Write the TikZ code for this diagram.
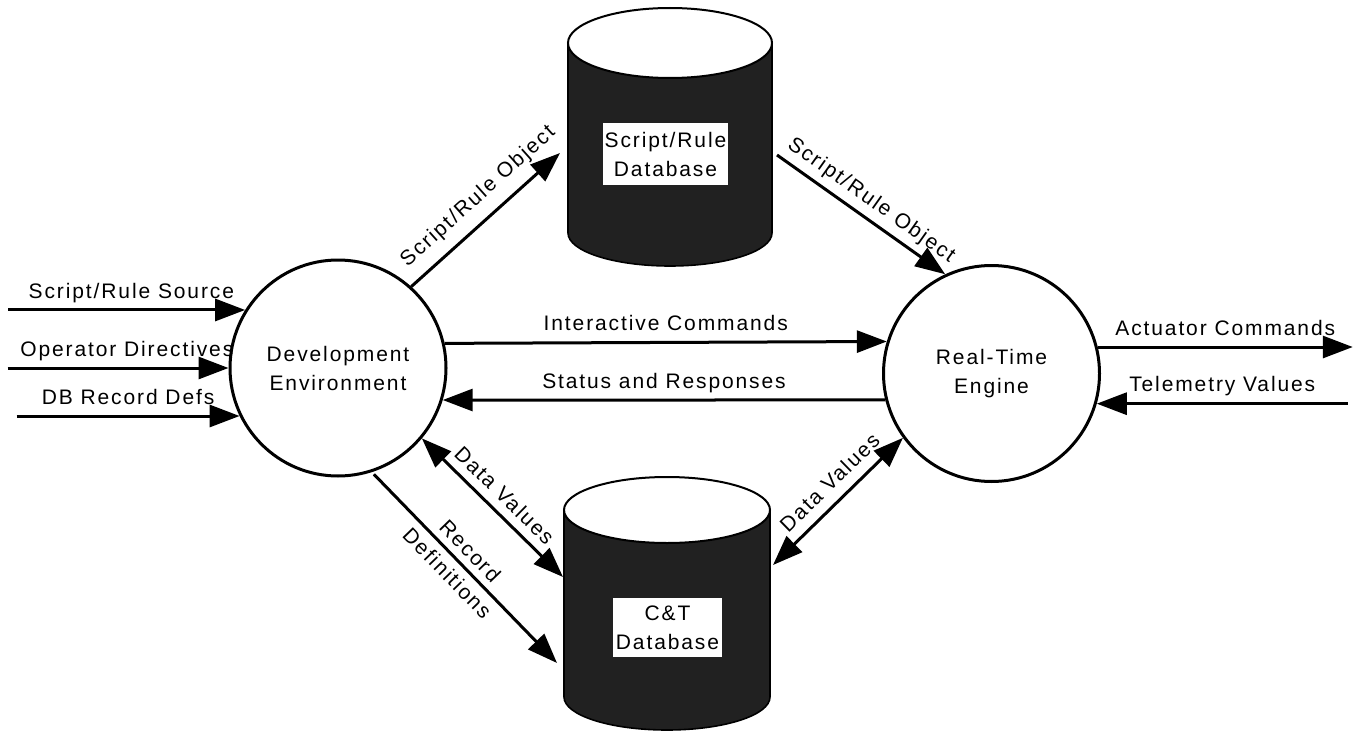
\documentclass[tikz,border=0pt]{standalone}
\usepackage{fontspec}
\setmainfont[LetterSpace=9]{Liberation Sans}
\usetikzlibrary{arrows.meta}
\newcommand{\dfdfont}{\fontsize{10.5}{14.5}\selectfont}

\begin{document}
\begin{tikzpicture}[
  x=0.5pt,y=-0.5pt,font=\dfdfont,
  proc/.style={circle,draw,line width=1.5pt,minimum size=108pt,align=center,inner sep=0pt},
  storebody/.style={rectangle,minimum width=#1,inner sep=0pt,outer sep=0pt},
  storefill/.style={fill=black!87,draw=black,line width=0.8pt},
  storelabel/.style={fill=white,align=center,inner sep=1pt},
  lbl/.style={text height=7.6pt,text depth=2.2pt,inner sep=3pt},
  flow/.style={line width=1.5pt,-{Triangle[length=15pt,width=11pt]}},
  dflow/.style={line width=1.5pt,{Triangle[length=15pt,width=11pt]}-{Triangle[length=15pt,width=11pt]}}
]
  \useasboundingbox (0,0) rectangle (1359,733);

  \node[proc] (dev) at (338,368) {Development\\Environment};
  \node[proc] (rte) at (991.5,373.5) {Real-Time\\Engine};

  \node[storebody=102pt,minimum height=95pt] (sdb) at (670,138) {};
  \fill[storefill] (sdb.north west) -- (sdb.south west)
    arc[start angle=180,end angle=0,x radius=102,y radius=33] -- (sdb.north east) -- cycle;
  \draw[fill=white,line width=1pt] (sdb.north) ellipse[x radius=102,y radius=35];
  \node[storelabel,minimum width=62.5pt,minimum height=31pt] (sdbtext) at (665.5,154) {Script/Rule\\Database};

  \node[storebody=103pt,minimum height=93.5pt] (cdb) at (667,603.5) {};
  \fill[storefill] (cdb.north west) -- (cdb.south west)
    arc[start angle=180,end angle=0,x radius=103,y radius=33] -- (cdb.north east) -- cycle;
  \draw[fill=white,line width=1pt] (cdb.north) ellipse[x radius=103,y radius=33];
  \node[storelabel,minimum width=54.5pt,minimum height=29.5pt] (cdbtext) at (667.5,627.5) {C\&T\\Database};

  \path (dev.148) ++(-237,0) coordinate (srcin);
  \path (dev.180) ++(-221,0) coordinate (opin);
  \path (dev.206.6) ++(-223,0) coordinate (recin);
  \path (rte.14) ++(255,0) coordinate (actout);
  \path (rte.-16.7) ++(251,0) coordinate (telin);

  \draw[flow] (srcin) -- node[lbl,above,pos=0.52] {Script/Rule Source} (dev.148);
  \draw[flow] (opin) -- node[lbl,above,pos=0.54] {Operator Directives} (dev.180);
  \draw[flow] (recin) -- node[lbl,above] {DB Record Defs} (dev.206.6);

  \draw[flow] (dev.13.7) -- node[lbl,above] {Interactive Commands} (rte.163.3);
  \draw[flow] (rte.194) -- node[lbl,above] {Status and Responses} (dev.-17);
  \draw[flow] (rte.14) -- node[lbl,above] {Actuator Commands} (actout);
  \draw[flow] (telin) -- node[lbl,above] {Telemetry Values} (rte.-16.7);

  \draw[flow] (dev.48) -- node[lbl,above=2.4pt,sloped,pos=0.55] {Script/Rule Object}
    ([shift={(-110,15)}]sdb.center);
  \draw[flow] ([shift={(107,17)}]sdb.center) -- node[lbl,above,sloped] {Script/Rule Object} (rte.115);

  \draw[dflow] (dev.-40) -- node[lbl,above=-1pt,sloped] {Data Values}
    ([shift={(-104,-26.5)}]cdb.center);
  \draw[flow,shorten <=1.5pt] (dev.-72) -- node[sloped,align=center,pos=0.47] {Record\\[1.5pt]Definitions}
    ([shift={(-110,59.5)}]cdb.center);
  \draw[dflow] ([shift={(106,-38.5)}]cdb.center) -- node[lbl,above,sloped,pos=0.54] {Data Values} (rte.216);
\end{tikzpicture}
\end{document}
